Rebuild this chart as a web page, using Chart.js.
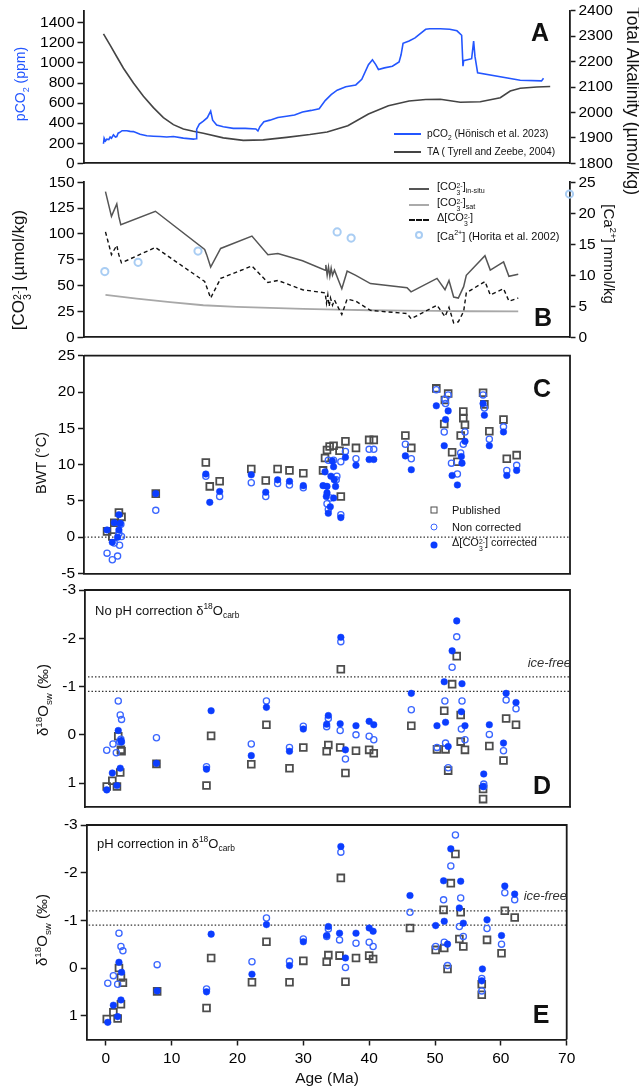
<!DOCTYPE html>
<html lang="en">
<head>
<meta charset="utf-8">
<title>Cenozoic pCO2, carbonate chemistry, BWT and seawater d18O</title>
<script src="https://cdn.jsdelivr.net/npm/chart.js@4.4.1/dist/chart.umd.min.js"></script>
<style>
  html, body { margin: 0; padding: 0; background: #fff; }
  body { position: relative; width: 639px; height: 1089px; overflow: hidden;
         font-family: "Liberation Sans", Arial, Helvetica, sans-serif; color: #111; }
  canvas { position: absolute; left: 0; }
  .t { position: absolute; white-space: nowrap; line-height: 1; }
  .rot { transform: translate(-50%, -50%) rotate(-90deg); }
  .rot2 { transform: translate(-50%, -50%) rotate(90deg); }
  .mid { transform: translate(0, -50%); }
  .ctr { transform: translate(-50%, -50%); }
  sub, sup { font-size: 65%; line-height: 0; }
  .st { display: inline-flex; flex-direction: column; font-size: 62%; line-height: 1; vertical-align: 0.3em; }
  .letter { font-weight: bold; font-size: 25px; }
  .lg { font-size: 11px; }
  .lgA { font-size: 10.2px; }
  .ln { position: absolute; height: 0; }
  .mk { position: absolute; transform: translate(-50%, -50%); box-sizing: border-box; }
</style>
</head>
<body>

<canvas id="panelA" width="639" height="180" style="top:0px"></canvas>
<canvas id="panelB" width="639" height="190" style="top:160px"></canvas>
<canvas id="panelC" width="639" height="255" style="top:335px"></canvas>
<canvas id="panelD" width="639" height="255" style="top:570px"></canvas>
<canvas id="panelE" width="639" height="284" style="top:805px"></canvas>

<!-- axis titles -->
<div class="t rot" style="left:20px;top:84px;font-size:14px;color:#2356ff">pCO<sub>2</sub> (ppm)</div>
<div class="t rot2" style="left:632px;top:101px;font-size:17.5px">Total Alkalinity (µmol/kg)</div>
<div class="t rot" style="left:21px;top:270px;font-size:17px">[CO<span class="st"><span>2-</span><span>3</span></span>] (µmol/kg)</div>
<div class="t rot2" style="left:609px;top:254px;font-size:15px">[Ca<sup>2+</sup>] mmol/kg</div>
<div class="t rot" style="left:41px;top:463px;font-size:14.5px">BWT (°C)</div>
<div class="t rot" style="left:42px;top:700px;font-size:15px">δ<sup>18</sup>O<sub>sw</sub> (‰)</div>
<div class="t rot" style="left:41px;top:930px;font-size:15px">δ<sup>18</sup>O<sub>sw</sub> (‰)</div>
<div class="t ctr" style="left:327px;top:1078px;font-size:15.5px">Age (Ma)</div>

<!-- panel letters -->
<div class="t ctr letter" style="left:540px;top:32px">A</div>
<div class="t ctr letter" style="left:543px;top:317px">B</div>
<div class="t ctr letter" style="left:542px;top:388px">C</div>
<div class="t ctr letter" style="left:542px;top:785px">D</div>
<div class="t ctr letter" style="left:541px;top:1014px">E</div>

<!-- in-panel notes -->
<div class="t mid" style="left:95px;top:610px;font-size:13px">No pH correction δ<sup>18</sup>O<sub>carb</sub></div>
<div class="t mid" style="left:97px;top:843px;font-size:13px">pH correction in δ<sup>18</sup>O<sub>carb</sub></div>
<div class="t mid" style="right:68px;top:662px;font-size:13px;font-style:italic;color:#333">ice-free</div>
<div class="t mid" style="right:72px;top:895px;font-size:13px;font-style:italic;color:#333">ice-free</div>

<!-- legend A -->
<div class="ln" style="left:394px;top:133px;width:27px;border-top:2px solid #2356ff"></div>
<div class="t mid lgA" style="left:427px;top:134px">pCO<sub>2</sub> (Hönisch et al. 2023)</div>
<div class="ln" style="left:394px;top:151px;width:27px;border-top:2px solid #444"></div>
<div class="t mid lgA" style="left:427px;top:152px">TA ( Tyrell and Zeebe, 2004)</div>

<!-- legend B -->
<div class="ln" style="left:409px;top:188px;width:20px;border-top:2px solid #555"></div>
<div class="t mid lg" style="left:437px;top:189px">[CO<span class="st"><span>2-</span><span>3</span></span>]<sub>in-situ</sub></div>
<div class="ln" style="left:409px;top:204px;width:20px;border-top:2px solid #aaa"></div>
<div class="t mid lg" style="left:437px;top:205px">[CO<span class="st"><span>2-</span><span>3</span></span>]<sub>sat</sub></div>
<div class="ln" style="left:409px;top:219px;width:20px;border-top:2px dashed #111"></div>
<div class="t mid lg" style="left:437px;top:220px">Δ[CO<span class="st"><span>2-</span><span>3</span></span>]</div>
<div class="mk" style="left:419px;top:235px;width:8px;height:8px;border:2px solid #a9cdf3;border-radius:50%"></div>
<div class="t mid lg" style="left:437px;top:236px">[Ca<sup>2+</sup>] (Horita et al. 2002)</div>

<!-- legend C -->
<div class="mk" style="left:434px;top:510px;width:7px;height:7px;border:1.8px solid #4d4d4d"></div>
<div class="t mid lg" style="left:452px;top:510px">Published</div>
<div class="mk" style="left:434px;top:527px;width:7px;height:7px;border:1.3px solid #3a66ff;border-radius:50%"></div>
<div class="t mid lg" style="left:452px;top:527px">Non corrected</div>
<div class="mk" style="left:434px;top:545px;width:7px;height:7px;background:#0b3dff;border-radius:50%"></div>
<div class="t mid lg" style="left:452px;top:545px">Δ[CO<span class="st"><span>2-</span><span>3</span></span>] corrected</div>

<script>
// ---- tick values -------------------------------------------------------
const ageTicks  = [0, 10, 20, 30, 40, 50, 60, 70];
const pco2Ticks = [0, 200, 400, 600, 800, 1000, 1200, 1400];
const alkTicks  = [1800, 1900, 2000, 2100, 2200, 2300, 2400];
const co3Ticks  = [0, 25, 50, 75, 100, 125, 150];
const caTicks   = [0, 5, 10, 15, 20, 25];
const bwtTicks  = [-5, 0, 5, 10, 15, 20, 25];
const d18Ticks  = [-3, -2, -1, 0, 1];
const iceFree   = [-1.2, -0.9];   // ice-free seawater d18O range

// ---- A: pCO2 (ppm) and total alkalinity (umol/kg) vs age (Ma) -----------
const pco2 = [[0,195],[0.1,251],[0.3,222],[0.5,240],[0.8,236],[1.0,261],[1.2,250],[1.5,283],[1.8,262],
  [2.0,267],[2.2,300],[2.4,306],[2.8,325],[3.5,325],[4.0,318],[4.5,316],[5.5,290],[6.5,274],[7.5,270],
  [8.5,267],[9.5,262],[10.5,267],[12.0,251],[13.5,241],[13.9,245],[14.0,340],[14.4,391],[15.0,420],
  [15.6,455],[16.1,521],[16.4,430],[17.0,381],[18.0,365],[19.5,348],[21.3,348],[22.9,342],[23.2,322],
  [23.5,365],[24.1,414],[25.0,430],[26.2,456],[27.5,469],[28.7,482],[29.9,511],[31.2,527],[32.4,544],
  [33.3,625],[34.2,684],[35.1,729],[36.4,762],[37.9,781],[38.8,837],[39.8,983],[40.4,1032],[40.9,983],
  [41.3,935],[42.2,951],[43.4,967],[44.4,1009],[44.7,1081],[45.0,1195],[45.9,1218],[46.8,1250],
  [47.4,1283],[48.4,1335],[49.0,1341],[50.6,1341],[52.0,1335],[53.1,1320],[53.8,1276],[54.0,967],
  [54.1,1022],[55.3,1042],[55.6,1218],[55.8,1065],[56.2,902],[62.6,827],[65.8,821],[66.1,847]];
const alkalinity = [[0,2309],[1,2265],[2,2219],[3,2174],[4.5,2116],[6,2064],[7.5,2019],[9,1980],
  [10.5,1952],[12,1935],[13.5,1926],[15,1918],[18,1900],[21,1890],[24,1892],[27.5,1902],[31,1913],
  [33.6,1923],[36.7,1948],[39.8,1994],[42.8,2026],[45.9,2045],[48.4,2051],[50.6,2052],[53.6,2040],
  [56.6,2042],[59.6,2058],[61.1,2084],[62.6,2095],[65.1,2100],[67.1,2102]];

// ---- B: carbonate ion (umol/kg) and calcium (mmol/kg) --------------------
const co3InSitu = [[0.3,141],[1.2,117],[2.0,129],[2.3,117],[2.6,109],[7.8,122],[15.2,85],[15.5,80],
  [16.1,68],[17.6,86],[22.3,98],[24.7,80],[26.2,81],[29.9,74],[33.3,65],[33.4,70],[33.6,60],[33.8,68],
  [34.0,59],[34.2,67],[34.4,60],[34.7,65],[35.8,47],[36.6,64],[37.9,60],[40.1,52],[45.6,48],[46.2,44],
  [50.1,57],[51.3,46],[51.9,55],[52.6,39],[53.3,38],[54.1,49],[54.5,60],[57.3,79],[58.1,65],[60.1,73],
  [60.9,59],[62.3,61]];
const co3Sat = [[0.3,41],[5,37.5],[10,34],[15,31],[20,29.5],[25,28.5],[30,27.5],[35,26.8],[40,26.2],
  [45,25.8],[50,25.5],[55,25.2],[62.3,25]];
const co3Delta = [[0.3,102],[1.2,80],[2.0,89],[2.3,80],[2.7,72],[7.8,87],[15.2,54],[16.1,38],[17.6,57],
  [22.3,69],[24.7,53],[26.2,55],[29.9,46],[33.3,43],[33.5,33],[33.7,41],[33.9,30],[34.1,38],[34.4,31],
  [34.7,36],[35.8,22],[36.6,37],[37.9,35],[40.1,26],[45.6,23],[46.2,18],[50.1,31],[51.3,20],[51.9,29],
  [52.6,14],[53.3,15],[54.1,25],[54.5,43],[57.3,54],[58.1,41],[60.1,47],[60.9,35],[62.3,38]];
const calcium = [[0.2,10.6],[5.2,12.1],[14.2,13.9],[35.1,17.0],[37.2,16.0],[70,23.1]];

// ---- C: bottom water temperature (degC) ----------------------------------
const bwtPublished = [[0.2,0.8],[1.0,0.1],[1.3,2.0],[2.0,3.4],[2.4,2.8],[7.6,6.0],[15.2,10.3],[15.8,7.0],
  [17.3,7.7],[22.1,9.4],[24.3,7.8],[26.1,9.4],[27.9,9.2],[30.0,8.8],[33.0,9.2],[33.3,10.9],[33.6,12.0],
  [34.0,12.5],[34.6,12.6],[35.5,11.9],[35.7,5.6],[36.4,13.2],[38.0,12.3],[40.0,13.4],[40.7,13.4],
  [45.5,14.0],[46.4,12.3],[50.2,20.5],[51.4,15.6],[51.5,18.9],[52.0,19.8],[52.6,11.7],[53.4,10.4],
  [53.9,14.0],[54.3,17.3],[54.3,16.4],[54.55,15.5],[57.3,19.9],[57.5,18.3],[58.25,14.6],[60.4,16.2],
  [60.9,10.8],[62.4,11.3]];
const bwtNonCorrected = [[0.2,-2.2],[1.0,-3.1],[1.8,-2.6],[2.1,-1.1],[2.4,0.1],[1.3,-0.8],[2.0,0.5],
  [2.3,1.8],[7.6,3.7],[15.2,8.4],[17.3,5.6],[22.1,7.5],[24.3,5.6],[26.1,7.4],[27.9,7.2],[30.0,6.8],
  [33.8,10.6],[34.6,10.6],[35.1,8.4],[35.0,7.9],[34.1,5.4],[33.8,3.8],[33.6,4.6],[35.7,10.4],[35.7,3.1],
  [36.4,11.8],[38.0,10.8],[40.0,12.1],[40.7,12.1],[45.5,12.8],[46.4,10.8],[50.2,20.3],[51.5,19.0],
  [51.6,18.4],[52.0,19.6],[51.4,14.5],[52.5,10.2],[53.4,8.7],[53.9,11.6],[54.3,12.8],[54.55,14.5],
  [57.3,19.6],[57.5,17.8],[58.25,13.5],[60.4,15.2],[60.9,9.2],[62.4,9.9]];
const bwtCorrected = [[0.2,1.0],[1.0,-0.7],[1.3,2.0],[2.0,3.1],[2.2,1.9],[2.0,1.0],[1.8,0.0],[7.6,6.0],
  [15.2,8.7],[15.8,4.8],[17.3,6.3],[22.1,8.6],[24.3,6.2],[26.1,7.9],[27.9,7.7],[30.0,7.1],[33.0,7.1],
  [33.3,9.0],[33.5,5.6],[33.6,7.0],[33.6,6.1],[33.8,3.3],[34.1,4.2],[34.2,8.4],[34.4,10.5],[34.6,9.7],
  [34.6,5.4],[34.7,7.9],[34.9,7.0],[35.7,2.7],[36.4,11.0],[38.0,9.9],[40.0,10.7],[40.7,10.7],[45.5,11.2],
  [46.4,9.3],[50.2,18.1],[51.4,12.6],[51.6,16.2],[52.0,17.4],[52.6,8.5],[53.4,7.2],[54.0,11.1],
  [54.1,10.2],[54.55,13.2],[57.3,18.4],[57.5,16.8],[58.25,12.6],[60.4,14.5],[60.9,8.5],[62.4,9.2]];

// ---- D: seawater d18O, no pH correction ---------------------------------
const noPhPublished = [[0.15,1.07],[1.0,0.95],[1.7,1.07],[2.2,0.78],[1.9,0.03],[2.3,0.31],[2.4,0.34],
  [7.7,0.60],[15.3,1.05],[16.0,0.02],[22.1,0.61],[24.4,-0.21],[27.9,0.69],[30.0,0.26],[33.55,0.34],
  [33.8,0.21],[35.6,0.26],[35.7,-1.36],[36.4,0.79],[38.0,0.33],[40.0,0.31],[40.7,0.38],[46.4,-0.19],
  [50.3,0.30],[51.4,-0.50],[51.6,0.30],[52.0,0.74],[52.6,-1.05],[53.3,-1.63],[53.9,-0.41],[53.9,0.14],
  [54.55,0.31],[57.3,1.12],[57.3,1.33],[58.25,0.23],[60.4,0.53],[60.8,-0.34],[62.3,-0.21]];
const noPhNonCorrected = [[0.15,0.32],[1.1,0.19],[1.6,0.37],[1.9,-0.70],[2.2,-0.41],[2.4,-0.32],
  [2.1,0.14],[2.3,0.09],[7.7,0.06],[15.3,0.66],[22.1,0.19],[24.4,-0.70],[27.9,0.26],[30.0,-0.18],
  [33.55,-0.17],[33.8,-0.34],[35.6,-0.09],[35.7,-1.93],[36.4,0.50],[38.0,0.00],[40.0,0.03],[40.7,0.10],
  [46.4,-0.52],[50.3,0.26],[51.5,-0.70],[51.6,0.17],[52.0,0.68],[52.6,-1.40],[53.3,-2.03],[54.0,-0.12],
  [54.1,-0.70],[54.55,0.10],[57.4,1.02],[57.4,1.07],[58.25,-0.01],[60.4,0.33],[60.8,-0.72],[62.3,-0.54]];
const noPhCorrected = [[0.15,1.14],[1.0,0.79],[1.7,1.05],[2.2,0.69],[1.9,-0.09],[2.3,0.12],[2.4,0.15],
  [7.7,0.59],[15.3,0.71],[16.0,-0.50],[22.1,0.43],[24.4,-0.57],[27.9,0.34],[30.0,-0.12],[33.55,-0.22],
  [33.8,-0.40],[35.6,-0.23],[35.7,-2.02],[36.4,0.31],[38.0,-0.19],[40.0,-0.28],[40.7,-0.21],[46.4,-0.86],
  [50.3,-0.19],[51.4,-1.10],[51.6,-0.26],[52.0,0.24],[52.6,-1.74],[53.3,-2.36],[54.0,-0.48],[54.1,-1.06],
  [54.55,-0.19],[57.3,1.07],[57.4,0.81],[58.25,-0.21],[60.4,0.17],[60.8,-0.86],[62.3,-0.67]];

// ---- E: seawater d18O, pH-corrected d18O carb ---------------------------
const phPublished = [[0.15,1.07],[1.15,0.93],[1.8,1.06],[2.3,0.76],[2.0,0.00],[2.3,0.20],[2.6,0.31],
  [7.8,0.49],[15.3,0.84],[16.0,-0.21],[22.2,0.30],[24.4,-0.55],[27.9,0.30],[30.0,-0.15],[33.55,-0.13],
  [33.8,-0.27],[35.5,-0.26],[35.7,-1.89],[36.4,0.29],[38.0,-0.21],[40.0,-0.26],[40.6,-0.19],[46.2,-0.84],
  [50.1,-0.38],[51.3,-1.22],[51.4,-0.42],[51.9,0.02],[52.4,-1.78],[53.1,-2.39],[53.7,-0.61],[53.9,-1.17],
  [54.3,-0.45],[57.1,0.34],[57.1,0.56],[57.9,-0.59],[60.1,-0.31],[60.6,-1.20],[62.1,-1.06]];
const phNonCorrected = [[0.3,0.32],[1.15,0.16],[1.8,0.34],[2.0,-0.73],[2.3,-0.45],[2.6,-0.36],
  [7.8,-0.07],[15.3,0.44],[22.2,-0.13],[24.4,-1.05],[27.9,-0.14],[30.0,-0.61],[33.55,-0.66],[33.8,-0.82],
  [35.5,-0.59],[35.7,-2.43],[36.4,-0.01],[38.0,-0.52],[40.0,-0.54],[40.6,-0.45],[46.2,-1.17],[50.1,-0.45],
  [51.3,-1.43],[51.4,-0.54],[51.9,-0.05],[52.4,-2.14],[53.1,-2.79],[53.7,-0.87],[53.9,-1.47],[54.3,-0.66],
  [57.1,0.22],[57.1,0.48],[57.9,-0.83],[60.1,-0.50],[60.6,-1.58],[62.1,-1.43]];
const phCorrected = [[0.3,1.14],[1.15,0.78],[1.8,1.02],[2.3,0.67],[2.0,-0.12],[2.4,0.09],[7.8,0.48],
  [15.3,0.50],[16.0,-0.71],[22.2,0.13],[24.4,-0.91],[27.9,-0.05],[30.0,-0.55],[33.55,-0.68],[33.8,-0.87],
  [35.5,-0.73],[35.7,-2.55],[36.4,-0.21],[38.0,-0.73],[40.0,-0.84],[40.6,-0.77],[46.2,-1.52],[50.1,-0.89],
  [51.3,-1.83],[51.4,-0.98],[51.9,-0.50],[52.4,-2.50],[53.7,-1.26],[53.9,-1.82],[54.3,-0.94],[57.1,0.27],
  [57.2,0.02],[57.9,-1.01],[60.1,-0.68],[60.6,-1.72],[62.1,-1.55]];

// ---- styling -------------------------------------------------------------
const INK = '#1a1a1a';
const BLUE = '#2356ff';
const FILL = '#0b3dff';
const RING = '#3a66ff';
const GREY = '#4d4d4d';
const FONT = '"Liberation Sans", Arial, sans-serif';
const tickFont = { family: FONT, size: 15.5, lineHeight: 1 };

function fixedTicks(values) {
  return function (scale) { scale.ticks = values.map(v => ({ value: v })); };
}

function yScale(o) {
  return {
    type: 'linear', position: o.position || 'left',
    min: o.min, max: o.max, reverse: !!o.reverse,
    afterBuildTicks: fixedTicks(o.ticks),
    afterFit: s => { s.width = o.width; },
    grid: { drawOnChartArea: false, drawTicks: true, tickLength: 6, tickColor: INK, tickWidth: 1.5 },
    border: { display: true, color: INK, width: 1.8 },
    ticks: { color: '#000', font: tickFont, padding: 3, autoSkip: false, callback: v => String(v) }
  };
}

function xScale(o) {
  const show = !!o.ticks;
  const sc = {
    type: 'linear', position: 'bottom', min: o.min, max: o.max,
    afterFit: s => { s.height = o.height; },
    grid: { display: show, drawOnChartArea: false, drawTicks: show, tickLength: 6, tickColor: INK, tickWidth: 1.5 },
    border: { display: true, color: INK, width: 1.8 },
    ticks: { display: show, color: '#000', font: tickFont, padding: 5, maxRotation: 0, autoSkip: false,
             callback: v => String(v) }
  };
  if (show) sc.afterBuildTicks = fixedTicks(o.ticks);
  return sc;
}

// closes the box on the top and right side for the scatter panels
const framePlugin = {
  id: 'frame',
  afterDraw(chart, args, opts) {
    if (!opts.on) return;
    const { ctx, chartArea: { left, top, right, bottom } } = chart;
    ctx.save();
    ctx.strokeStyle = INK;
    ctx.lineWidth = 1.8;
    ctx.beginPath();
    ctx.moveTo(left, top);
    ctx.lineTo(right, top);
    ctx.lineTo(right, bottom);
    ctx.stroke();
    ctx.restore();
  }
};

function lineSet(data, color, width, axis, dash) {
  return { data, yAxisID: axis || 'y', showLine: true, borderColor: color, borderWidth: width,
           borderDash: dash || [], pointRadius: 0, tension: 0, fill: false };
}

function dottedLevel(level, x0, x1) {
  return { data: [[x0, level], [x1, level]], showLine: true, borderColor: '#333', borderWidth: 1.2,
           borderDash: [1.5, 2], pointRadius: 0, fill: false };
}

// three proxy series share one look in panels C, D and E
function proxySets(published, nonCorrected, corrected) {
  return [
    { data: corrected, pointStyle: 'circle', pointRadius: 3.3, backgroundColor: FILL, borderColor: FILL, borderWidth: 0.5 },
    { data: nonCorrected, pointStyle: 'circle', pointRadius: 3.1, backgroundColor: 'rgba(255,255,255,0)', borderColor: RING, borderWidth: 1.3 },
    { data: published, pointStyle: 'rect', pointRadius: 4.8, backgroundColor: 'rgba(255,255,255,0)', borderColor: GREY, borderWidth: 1.8 }
  ];
}

function makePanel(id, datasets, scales, padding, frame) {
  return new Chart(document.getElementById(id), {
    type: 'scatter',
    data: { datasets },
    options: {
      responsive: false, animation: false, devicePixelRatio: 1, events: [],
      layout: { padding },
      scales,
      plugins: { legend: { display: false }, tooltip: { enabled: false }, frame: { on: frame } }
    },
    plugins: [framePlugin]
  });
}

// A
makePanel('panelA', [
  lineSet(pco2, BLUE, 1.6, 'y'),
  lineSet(alkalinity, '#444', 1.6, 'y2')
], {
  x: xScale({ min: -3, max: 70, height: 16.7 }),
  y: yScale({ min: 0, max: 1520, ticks: pco2Ticks, width: 83.5 }),
  y2: yScale({ position: 'right', min: 1800, max: 2400, ticks: alkTicks, width: 69.5 })
}, { top: 8.3, left: 0, right: 0, bottom: 0 }, false);

// B
makePanel('panelB', [
  { data: calcium, yAxisID: 'y2', pointStyle: 'circle', pointRadius: 3.6, borderWidth: 2,
    borderColor: '#a9cdf3', backgroundColor: 'rgba(255,255,255,0)', clip: false },
  lineSet(co3Delta, '#111', 1.4, 'y', [4, 3]),
  lineSet(co3InSitu, '#555', 1.5, 'y'),
  lineSet(co3Sat, '#a8a8a8', 1.8, 'y')
], {
  x: xScale({ min: -3, max: 70, height: 12.7 }),
  y: yScale({ min: 0, max: 150, ticks: co3Ticks, width: 83.5 }),
  y2: yScale({ position: 'right', min: 0, max: 25, ticks: caTicks, width: 69.5 })
}, { top: 22.3, left: 0, right: 0, bottom: 0 }, false);

// C
const cMin = -3.3, cMax = 70.5;
makePanel('panelC', [
  ...proxySets(bwtPublished, bwtNonCorrected, bwtCorrected),
  dottedLevel(0, cMin, cMax)
], {
  x: xScale({ min: cMin, max: cMax, height: 16.5 }),
  y: yScale({ min: -5, max: 25, ticks: bwtTicks, width: 84 })
}, { top: 20.7, left: 0, right: 69, bottom: 0 }, true);

// D
const dMin = -3.15, dMax = 70.5;
makePanel('panelD', [
  ...proxySets(noPhPublished, noPhNonCorrected, noPhCorrected),
  ...iceFree.map(v => dottedLevel(v, -2.7, dMax))
], {
  x: xScale({ min: dMin, max: dMax, height: 17.7 }),
  y: yScale({ min: -3, max: 1.5, reverse: true, ticks: d18Ticks, width: 85 })
}, { top: 20, left: 0, right: 69, bottom: 0 }, true);

// E
const eMin = -2.9, eMax = 70;
makePanel('panelE', [
  ...proxySets(phPublished, phNonCorrected, phCorrected),
  ...iceFree.map(v => dottedLevel(v, -2.6, eMax))
], {
  x: xScale({ min: eMin, max: eMax, ticks: ageTicks, height: 49.5 }),
  y: yScale({ min: -3, max: 1.5, reverse: true, ticks: d18Ticks, width: 86.7 })
}, { top: 20, left: 0, right: 72.3, bottom: 0 }, true);
</script>
</body>
</html>
